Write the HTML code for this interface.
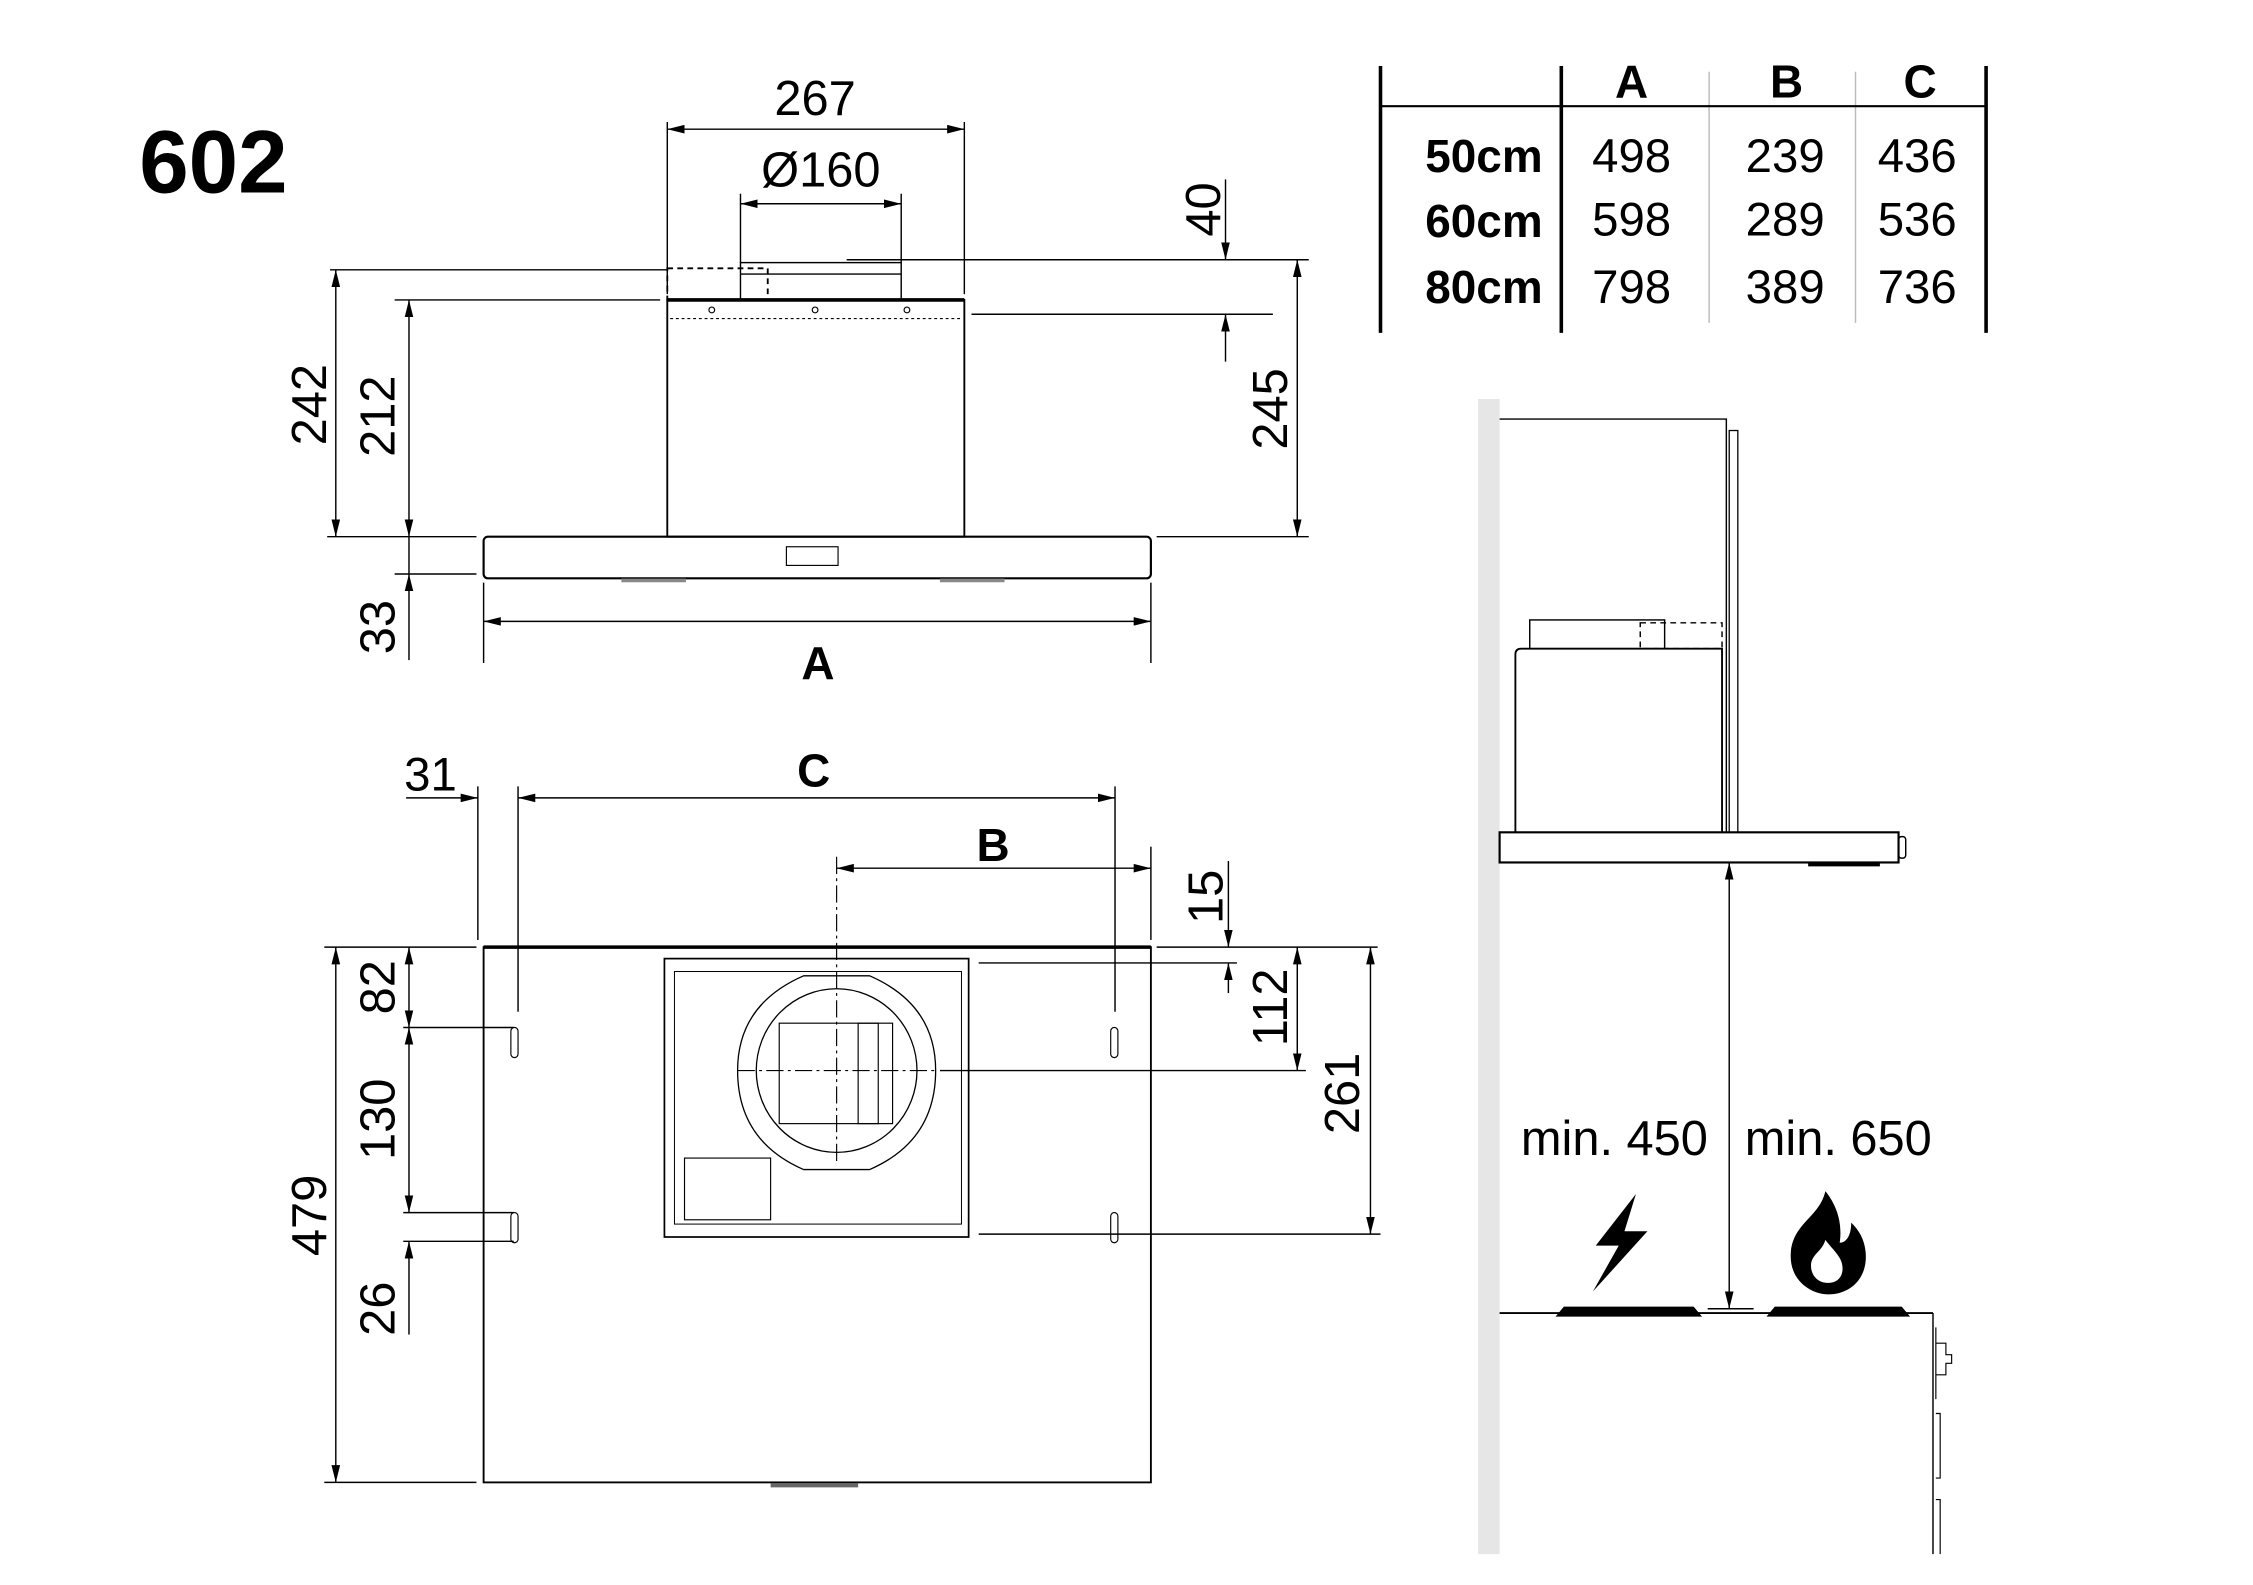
<!DOCTYPE html>
<html><head><meta charset="utf-8"><style>html,body{margin:0;padding:0;background:#fff}svg{display:block}</style></head>
<body>
<svg width="2253" height="1585" viewBox="0 0 1570 1104.5" xmlns="http://www.w3.org/2000/svg" font-family="Liberation Sans, sans-serif">
<defs>
<marker id="a" viewBox="0 0 12 6" refX="12" refY="3" markerWidth="12" markerHeight="6" markerUnits="userSpaceOnUse" orient="auto-start-reverse"><path d="M0,0 L12,3 L0,6 Z" fill="#000"/></marker>
</defs>
<g stroke="#000" stroke-width="1" fill="none">
<line x1="465" y1="85" x2="465" y2="205"/><line x1="672" y1="85" x2="672" y2="205"/>
<line x1="465" y1="90" x2="672" y2="90" marker-start="url(#a)" marker-end="url(#a)"/>
<line x1="516" y1="135" x2="516" y2="183"/><line x1="628" y1="135" x2="628" y2="183"/>
<line x1="516" y1="142" x2="628" y2="142" marker-start="url(#a)" marker-end="url(#a)"/>
<rect x="465" y="209" width="207" height="165" stroke-width="1.3"/>
<line x1="465" y1="209" x2="672" y2="209" stroke-width="2.5"/>
<rect x="516" y="183" width="112" height="26"/>
<line x1="516" y1="191" x2="628" y2="191"/>
<rect x="465" y="187" width="70" height="22" stroke-dasharray="4,3" stroke-width="1.3"/>
<circle cx="496" cy="216" r="2" stroke-width="0.8"/><circle cx="568" cy="216" r="2" stroke-width="0.8"/><circle cx="632" cy="216" r="2" stroke-width="0.8"/>
<line x1="467" y1="222" x2="670" y2="222" stroke-dasharray="2,2" stroke-width="0.8"/>
<rect x="337" y="374" width="465" height="29" rx="3" stroke-width="1.5"/>
<rect x="548" y="381" width="36" height="13" stroke-width="0.8"/>
<line x1="433" y1="404.5" x2="478" y2="404.5" stroke="#888" stroke-width="2.5"/>
<line x1="655" y1="404.5" x2="700" y2="404.5" stroke="#888" stroke-width="2.5"/>
<line x1="230" y1="188" x2="465" y2="188"/><line x1="228" y1="374" x2="332" y2="374"/>
<line x1="234" y1="188" x2="234" y2="374" marker-start="url(#a)" marker-end="url(#a)"/>
<line x1="275" y1="209" x2="460" y2="209"/>
<line x1="285" y1="209" x2="285" y2="374" marker-start="url(#a)" marker-end="url(#a)"/>
<line x1="275" y1="400" x2="332" y2="400"/>
<line x1="285" y1="374" x2="285" y2="400"/>
<line x1="285" y1="460" x2="285" y2="400" marker-end="url(#a)"/>
<line x1="337" y1="406" x2="337" y2="462"/><line x1="802" y1="406" x2="802" y2="462"/>
<line x1="337" y1="433" x2="802" y2="433" marker-start="url(#a)" marker-end="url(#a)"/>
<line x1="590" y1="181" x2="912" y2="181"/><line x1="677" y1="219" x2="887" y2="219"/>
<line x1="854" y1="125" x2="854" y2="181" marker-end="url(#a)"/>
<line x1="854" y1="252" x2="854" y2="219" marker-end="url(#a)"/>
<line x1="904" y1="181" x2="904" y2="374" marker-start="url(#a)" marker-end="url(#a)"/>
<line x1="806" y1="374" x2="912" y2="374"/>
<line x1="962" y1="46" x2="962" y2="232" stroke-width="2.5"/>
<line x1="1088" y1="46" x2="1088" y2="232" stroke-width="2.5"/>
<line x1="1384" y1="46" x2="1384" y2="232" stroke-width="2.5"/>
<line x1="1191" y1="50" x2="1191" y2="225" stroke="#bbb"/>
<line x1="1293" y1="50" x2="1293" y2="225" stroke="#bbb"/>
<line x1="962" y1="74" x2="1384" y2="74" stroke-width="1.5"/>
<rect x="337" y="660" width="465" height="373" stroke-width="1.3"/>
<line x1="337" y1="660" x2="802" y2="660" stroke-width="2.5"/>
<line x1="333" y1="548" x2="333" y2="655"/><line x1="361" y1="548" x2="361" y2="705"/>
<line x1="777" y1="548" x2="777" y2="705"/>
<line x1="283" y1="556" x2="333" y2="556" marker-end="url(#a)"/>
<line x1="361" y1="556" x2="777" y2="556" marker-start="url(#a)" marker-end="url(#a)"/>
<line x1="583" y1="597" x2="583" y2="812" stroke-dasharray="12,3,2,3" stroke-width="0.8"/>
<line x1="802" y1="590" x2="802" y2="655"/>
<line x1="583" y1="605" x2="802" y2="605" marker-start="url(#a)" marker-end="url(#a)"/>
<rect x="356" y="716" width="5" height="21" rx="2.5" stroke-width="0.8"/>
<rect x="774" y="716" width="5" height="21" rx="2.5" stroke-width="0.8"/>
<rect x="356" y="845" width="5" height="21" rx="2.5" stroke-width="0.8"/>
<rect x="774" y="845" width="5" height="21" rx="2.5" stroke-width="0.8"/>
<rect x="463" y="668" width="212" height="194" stroke-width="1.2"/>
<rect x="470" y="677" width="200" height="176" stroke-width="0.7"/>
<path d="M560,680 L606,680 Q652,700 652,746 Q652,795 606,815 L560,815 Q514,795 514,746 Q514,700 560,680 Z" stroke-width="0.9"/>
<ellipse cx="583" cy="746" rx="56" ry="57" stroke-width="0.9"/>
<rect x="543" y="713" width="79" height="70" stroke-width="0.8"/>
<rect x="598" y="713" width="14" height="70" stroke-width="0.8"/>
<rect x="477" y="807" width="60" height="43" stroke-width="0.8"/>
<line x1="514" y1="746" x2="652" y2="746" stroke-dasharray="12,3,2,3" stroke-width="0.8"/>
<line x1="655" y1="746" x2="910" y2="746"/>
<line x1="537" y1="1035" x2="598" y2="1035" stroke="#666" stroke-width="3"/>
<line x1="226" y1="660" x2="332" y2="660"/><line x1="226" y1="1033" x2="332" y2="1033"/>
<line x1="234" y1="660" x2="234" y2="1033" marker-start="url(#a)" marker-end="url(#a)"/>
<line x1="281" y1="716" x2="358" y2="716"/><line x1="281" y1="845" x2="358" y2="845"/><line x1="281" y1="865" x2="358" y2="865"/>
<line x1="285" y1="660" x2="285" y2="716" marker-start="url(#a)" marker-end="url(#a)"/>
<line x1="285" y1="716" x2="285" y2="845" marker-start="url(#a)" marker-end="url(#a)"/>
<line x1="285" y1="930" x2="285" y2="865" marker-end="url(#a)"/>
<line x1="806" y1="660" x2="960" y2="660"/><line x1="682" y1="671" x2="862" y2="671"/>
<line x1="856" y1="600" x2="856" y2="660" marker-end="url(#a)"/>
<line x1="856" y1="692" x2="856" y2="671" marker-end="url(#a)"/>
<line x1="904" y1="660" x2="904" y2="746" marker-start="url(#a)" marker-end="url(#a)"/>
<line x1="682" y1="860" x2="962" y2="860"/>
<line x1="955" y1="660" x2="955" y2="860" marker-start="url(#a)" marker-end="url(#a)"/>
<rect x="1030" y="278" width="15" height="805" fill="#e6e6e6" stroke="none"/>
<path d="M1045,292 L1203,292 L1203,580"/>
<rect x="1205" y="300" width="6" height="280" stroke-width="0.9"/>
<path d="M1056,580 L1056,456 Q1056,452 1060,452 L1200,452 L1200,580" stroke-width="1.3"/>
<rect x="1066" y="432" width="94" height="20"/>
<rect x="1143" y="434" width="57" height="18" stroke-dasharray="4,3"/>
<rect x="1045" y="580" width="278" height="21" stroke-width="1.5"/>
<rect x="1323" y="583" width="5" height="15" rx="2"/>
<line x1="1260" y1="602.5" x2="1310" y2="602.5" stroke-width="2.5"/>
<line x1="1205" y1="601" x2="1205" y2="912" marker-start="url(#a)" marker-end="url(#a)"/>
<line x1="1190" y1="912" x2="1222" y2="912"/>
<line x1="1045" y1="915" x2="1347" y2="915" stroke-width="1.3"/>
<path d="M1085,917 L1090,911 L1180,911 L1185,917 Z" fill="#000"/>
<path d="M1232,917 L1237,911 L1325,911 L1330,917 Z" fill="#000"/>
<path d="M1347,915 L1347,1083"/>
<path d="M1349,925 L1349,975 M1349,936 L1356,936 L1356,944 L1360,944 L1360,950 L1356,950 L1356,958 L1349,958 M1349,985 L1352,985 L1352,1030 L1349,1030 M1349,1045 L1352,1045 L1352,1083" stroke-width="0.8"/>
</g>
<path d="M1140,832 L1112,868 L1128,868 L1110,900 L1148,858 L1132,858 Z" fill="#000"/>
<path d="M1272,830 C1268,848 1250,852 1248,872 C1246,892 1262,902 1274,902 C1290,902 1302,890 1300,872 C1299,862 1294,856 1290,852 C1290,862 1286,866 1282,866 C1284,852 1280,840 1272,830 Z M1274,894 C1266,894 1262,888 1262,882 C1262,874 1270,872 1272,864 C1278,872 1284,876 1284,884 C1284,890 1280,894 1274,894 Z" fill="#000" fill-rule="evenodd"/>
<g fill="#000">
<text x="97" y="134" font-size="62" font-weight="bold">602</text>
<text x="568" y="80" font-size="34" text-anchor="middle">267</text>
<text x="572" y="130" font-size="34" text-anchor="middle">Ø160</text>
<text x="570" y="473" font-size="32" font-weight="bold" text-anchor="middle">A</text>
<text x="567" y="548" font-size="32" font-weight="bold" text-anchor="middle">C</text>
<text x="692" y="600" font-size="32" font-weight="bold" text-anchor="middle">B</text>
<text x="300" y="551" font-size="33" text-anchor="middle">31</text>
<g font-size="34" text-anchor="middle">
<text transform="translate(227,282) rotate(-90)">242</text>
<text transform="translate(275,290) rotate(-90)">212</text>
<text transform="translate(275,437) rotate(-90)">33</text>
<text transform="translate(850,146) rotate(-90)">40</text>
<text transform="translate(897,285) rotate(-90)">245</text>
<text transform="translate(227,847) rotate(-90)">479</text>
<text transform="translate(275,688) rotate(-90)">82</text>
<text transform="translate(275,780) rotate(-90)">130</text>
<text transform="translate(275,912) rotate(-90)">26</text>
<text transform="translate(852,625) rotate(-90)">15</text>
<text transform="translate(897,702) rotate(-90)">112</text>
<text transform="translate(947,762) rotate(-90)">261</text>
</g>
<g font-size="32" font-weight="bold" text-anchor="middle">
<text x="1137" y="68">A</text><text x="1245" y="68">B</text><text x="1338" y="68">C</text>
</g>
<g font-size="32" font-weight="bold" text-anchor="end">
<text x="1075" y="120">50cm</text><text x="1075" y="165">60cm</text><text x="1075" y="211">80cm</text>
</g>
<g font-size="33" text-anchor="middle">
<text x="1137" y="120">498</text><text x="1244" y="120">239</text><text x="1336" y="120">436</text>
<text x="1137" y="164">598</text><text x="1244" y="164">289</text><text x="1336" y="164">536</text>
<text x="1137" y="211">798</text><text x="1244" y="211">389</text><text x="1336" y="211">736</text>
</g>
<text x="1125" y="805" font-size="34" text-anchor="middle">min. 450</text>
<text x="1281" y="805" font-size="34" text-anchor="middle">min. 650</text>
</g>
</svg>
</body></html>
